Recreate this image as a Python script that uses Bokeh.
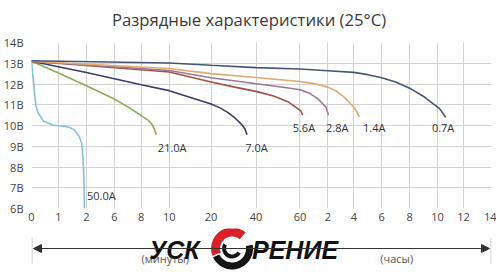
import numpy as np
from bokeh.plotting import figure
from bokeh.layouts import column
from bokeh.models import Range1d, FixedTicker, Arrow, NormalHead
from bokeh.embed import file_html
from bokeh.resources import INLINE
from bokeh.core.properties import value

# ---------------- data ----------------
title_text = "Разрядные характеристики (25°C)"

y_tick_values = [6, 7, 8, 9, 10, 11, 12, 13, 14]
y_tick_labels = ["6В", "7В", "8В", "9В", "10В", "11В", "12В", "13В", "14В"]

# x ticks: elapsed time in minutes, labelled in minutes up to 60, then in hours
x_tick_minutes = [0, 1, 2, 6, 8, 10, 20, 40, 60, 120, 240, 360, 480, 600, 720, 840]
x_tick_labels = ["0", "1", "2", "6", "8", "10", "20", "40", "60",
                 "2", "4", "6", "8", "10", "12", "14"]

series_names = ["50.0A", "21.0A", "7.0A", "5.6A", "2.8A", "1.4A", "0.7A"]

t_50 = [0, 0.05, 0.11, 0.17, 0.25, 0.45, 0.8, 1.0, 1.2, 1.4, 1.55, 1.65, 1.75, 1.84, 1.88, 1.91, 1.93]
v_50 = [13.1, 12.4, 11.6, 10.9, 10.6, 10.2, 10.02, 9.99, 9.96, 9.9, 9.8, 9.65, 9.45, 9.1, 8.4, 7.5, 6.0]

t_21 = [0, 1, 2, 6, 7, 8, 8.5, 8.8, 8.95, 9.07]
v_21 = [13.1, 12.53, 11.92, 11.28, 10.9, 10.48, 10.25, 10.02, 9.8, 9.56]

t_7 = [0, 2, 6, 8, 10, 20, 24, 27.5, 30, 32, 34, 35.2, 36]
v_7 = [13.1, 12.55, 12.25, 11.96, 11.68, 11.04, 10.85, 10.62, 10.42, 10.22, 10.0, 9.8, 9.56]

t_56 = [0, 10, 20, 30, 41, 48, 54.5, 58.5, 62, 66]
v_56 = [13.1, 12.58, 12.1, 11.86, 11.62, 11.42, 11.15, 10.85, 10.7, 10.5]

t_28 = [0, 10, 20, 41, 54, 60, 81, 99, 116, 123]
v_28 = [13.1, 12.65, 12.3, 12.0, 11.82, 11.72, 11.55, 11.28, 10.88, 10.5]

t_14 = [0, 10, 20, 41, 60, 90, 120, 161, 194, 221, 240, 253, 264]
v_14 = [13.1, 12.75, 12.5, 12.3, 12.12, 12.02, 11.85, 11.65, 11.38, 11.1, 10.88, 10.65, 10.4]

t_07 = [0, 10, 20, 40, 60, 120, 240, 300, 360, 420, 480, 540, 580, 610, 637]
v_07 = [13.12, 13.01, 12.9, 12.79, 12.72, 12.64, 12.56, 12.45, 12.3, 12.1, 11.8, 11.4, 11.05, 10.8, 10.4]

axis_note_minutes = "(минуты)"
axis_note_hours = "(часы)"
logo_left = "УСК"
logo_right = "РЕНИЕ"

# ---------------- layout / style ----------------
# horizontal placement of each x tick inside the plot frame (the axis is piecewise)
x_tick_pos = [0, 27, 55, 83, 110, 138, 180, 225, 269, 297, 323, 351, 379, 407, 433, 461]

def xpos(t):
    return np.interp(np.asarray(t, dtype=float), x_tick_minutes, x_tick_pos)

colors = ["#86c2d6", "#8aad55", "#3d3d66", "#a25048", "#9a7896", "#e0aa72", "#4a5677"]
# label anchor (frame x, volts)
label_x = [70, 141, 225.5, 273, 306.5, 343.5, 412.5]
label_y = [6.63, 8.94, 8.94, 9.9, 9.9, 9.9, 9.9]

FONT = "Open Sans"

def strip(h, top):
    """A plain strip whose frame the column aligns with the chart frame (canvas x 30..491)."""
    s = figure(width=496, height=h, output_backend="svg", toolbar_location=None,
               x_axis_type=None, y_axis_type=None, title=None,
               x_range=Range1d(30, 491), y_range=Range1d(top + h, top),
               min_border_left=0, min_border_right=0, min_border_top=0, min_border_bottom=0,
               background_fill_color="white", border_fill_color="white")
    s.outline_line_color = None
    s.grid.visible = False
    return s

# ---------------- title strip ----------------
t = strip(34, 0)
t.text(x=[248], y=[19], text=[title_text], text_font=value(FONT), text_font_size="16.7px",
       text_color="#3a3a3a", text_align="center", text_baseline="middle")

# ---------------- chart ----------------
p = figure(width=496, height=194, output_backend="svg", toolbar_location=None,
           x_range=Range1d(0, 461), y_range=Range1d(6, 14),
           min_border_left=30, min_border_right=5, min_border_top=8, min_border_bottom=20,
           background_fill_color="white", border_fill_color="white")
p.outline_line_color = None

p.xgrid.ticker = FixedTicker(ticks=x_tick_pos)
p.ygrid.ticker = FixedTicker(ticks=y_tick_values)
for g in (p.xgrid, p.ygrid):
    g.grid_line_color = "#d2d2d2"
    g.grid_line_width = 1

p.xaxis.ticker = FixedTicker(ticks=x_tick_pos)
p.xaxis.major_label_overrides = {pos: lab for pos, lab in zip(x_tick_pos, x_tick_labels)}
p.yaxis.ticker = FixedTicker(ticks=y_tick_values)
p.yaxis.major_label_overrides = {v: lab for v, lab in zip(y_tick_values, y_tick_labels)}
for ax in (p.xaxis, p.yaxis):
    ax.axis_line_color = None
    ax.major_tick_line_color = None
    ax.minor_tick_line_color = None
    ax.major_tick_out = 0
    ax.major_tick_in = 0
    ax.major_label_text_font = FONT
    ax.major_label_text_font_size = "11px"
    ax.major_label_text_color = "#444444"
p.xaxis.major_label_standoff = 4
p.yaxis.major_label_standoff = 8

series = [(t_50, v_50), (t_21, v_21), (t_7, v_7), (t_56, v_56), (t_28, v_28), (t_14, v_14), (t_07, v_07)]
for (tt, v), c in zip(series, colors):
    p.line(xpos(tt), v, line_color=c, line_width=1.6)

p.text(x=label_x, y=label_y, text=series_names, text_font=value(FONT), text_font_size="11px",
       text_color="#333333", text_align="center", text_baseline="middle")

# ---------------- strip below: time direction arrow, notes, watermark ----------------
q = strip(44, 228)
q.segment(x0=[30.5, 490.5], y0=[237, 237], x1=[30.5, 490.5], y1=[263, 263], line_color="#c4c4c4", line_width=1)
q.add_layout(Arrow(x_start=32, y_start=248, x_end=489, y_end=248, line_color="#333333", line_width=1,
                   start=NormalHead(size=8, fill_color="#333333", line_color="#333333"),
                   end=NormalHead(size=8, fill_color="#333333", line_color="#333333")))
q.text(x=[164, 396], y=[258, 258], text=[axis_note_minutes, axis_note_hours], text_font=value(FONT),
       text_font_size="11px", text_color="#555555", text_align="center", text_baseline="middle")

def ring_sector(cx, cy, r1, r2, a0, a1):
    a = np.radians(np.linspace(a0, a1, 30))
    xs = list(cx + r2 * np.cos(a)) + list(cx + r1 * np.cos(a[::-1]))
    ys = list(cy - r2 * np.sin(a)) + list(cy - r1 * np.sin(a[::-1]))
    return xs, ys

sx, sy, sc = [], [], []
for (r1, r2, a0, a1, col) in [(12, 21, 50, 200, "#d8202a"), (14, 21, 205, 370, "#151515"),
                              (6, 10, 150, 330, "#151515")]:
    xs, ys = ring_sector(231, 248, r1, r2, a0, a1)
    sx.append(xs); sy.append(ys); sc.append(col)
q.patches(xs=sx, ys=sy, fill_color=sc, line_color=None)

q.text(x=[148, 251], y=[249, 249], text=[logo_left, logo_right], text_font=value("Liberation Sans"),
       text_font_size="25px", text_font_style="bold italic", text_color="#111111",
       text_align="left", text_baseline="middle")

open("out.html", "w").write(file_html(column(t, p, q, spacing=0), INLINE))
